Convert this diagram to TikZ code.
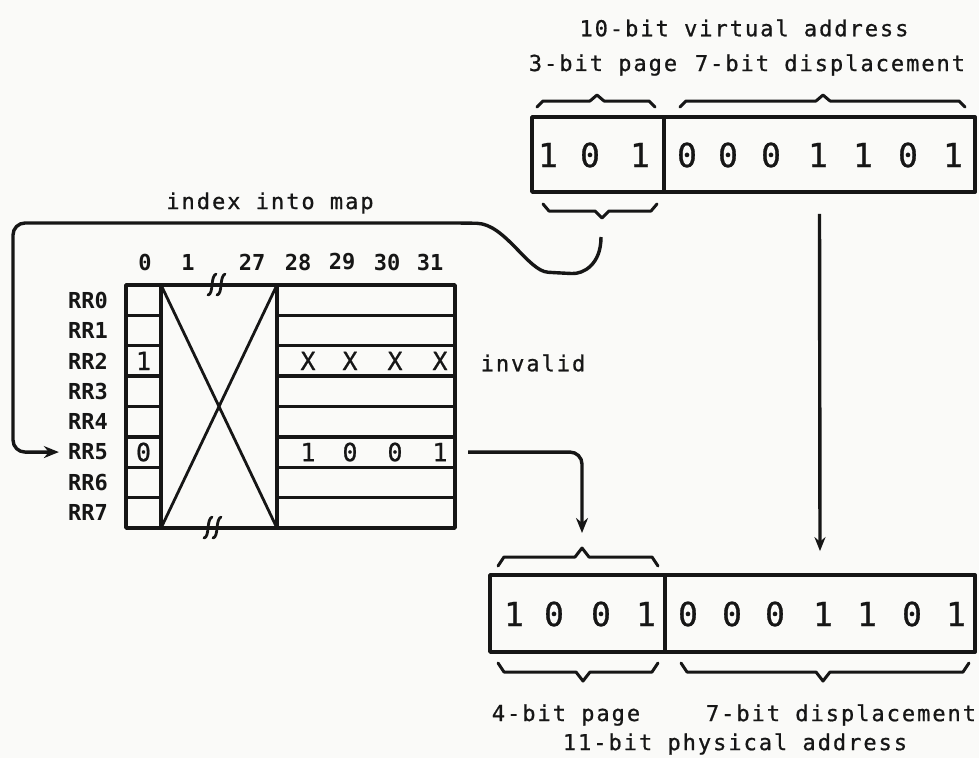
\documentclass[tikz,border=0pt]{standalone}
\usepackage{fontspec}
\usetikzlibrary{arrows.meta}
\newfontfamily\twfont[LetterSpace=9,FakeBold=0.8]{DejaVu Sans Mono}
\newfontfamily\twplain[FakeBold=0.8]{DejaVu Sans Mono}
\newfontfamily\twbold{DejaVu Sans Mono Bold}
\definecolor{paper}{RGB}{250,250,248}
\definecolor{ink}{RGB}{22,22,22}
% brace: x1, x2, xtip, y of flat part, signed depth of ends (tip goes the other way)
\newcommand\mybrace[5]{\draw[bracestyle] (#1,{#4+(#5)}) -- ({#1+6},#4) -- ({#3-7},#4) -- (#3,{#4-(#5)}) -- ({#3+7},#4) -- ({#2-6},#4) -- (#2,{#4+(#5)});}
% break mark on a table border
\newcommand\tabbreak[2]{%
  \draw[ink, line width=2.8pt, line cap=round] ({#1-9},{#2+10}) .. controls ({#1-3},{#2+9}) and ({#1-7},{#2-8}) .. ({#1-1},{#2-11});
  \draw[ink, line width=2.8pt, line cap=round] ({#1},{#2+10}) .. controls ({#1+6},{#2+9}) and ({#1+2},{#2-8}) .. ({#1+8},{#2-11});}
\begin{document}
\begin{tikzpicture}[x=1pt,y=-1pt,line join=round,
  box/.style={draw=ink, line width=3.8pt, inner sep=0pt},
  tline/.style={draw=ink, line width=3.4pt},
  bracestyle/.style={draw=ink, line width=3pt, line cap=round},
  conn/.style={draw=ink, line width=3.4pt, rounded corners=12pt, -{Stealth[length=15pt,width=12pt]}},
  vconn/.style={draw=ink, line width=3.4pt, -{Stealth[length=14pt,width=11pt]}},
  lab/.style={text=ink, inner sep=0pt, font=\twfont\fontsize{22}{25}\selectfont},
  big/.style={text=ink, inner sep=0pt, font=\twplain\fontsize{33}{38}\selectfont},
  cell/.style={text=ink, inner sep=0pt, font=\twplain\fontsize{25}{28}\selectfont},
  hdr/.style={text=ink, inner sep=0pt, font=\twbold\fontsize{22}{26}\selectfont}]
\fill[paper] (0,0) rectangle (979,758);
\useasboundingbox (0,0) rectangle (979,758);

% ---------- virtual address ----------
\node[lab] (vtitle) at (744,28) {10-bit virtual address};
\node[lab] (vpagelab) at (603,65) {3-bit page};
\node[lab] (vdisplab) at (830,65) {7-bit displacement};
\mybrace{537}{655}{597}{101}{6}
\mybrace{680}{965}{823}{101}{6}
\node[box, minimum width=132pt, minimum height=75pt] (vpage) at (598,154.5) {};
\node[box, minimum width=311pt, minimum height=75pt] (vdisp) at (819.5,154.5) {};
\foreach \x/\d [count=\k] in {548/1,590/0,640/1}
  \node[big] (vp\k) at (\x,155) {\d};
\foreach \x/\d [count=\k] in {687/0,728/0,771/0,818/1,863/1,908/0,953/1}
  \node[big] (vd\k) at (\x,155) {\d};
\mybrace{543}{657}{602}{211}{-7}
\coordinate (idxstart) at (601,237);

% ---------- map table ----------
\node[lab] (idxlab) at (270,203) {index into map};
\foreach \x/\t [count=\k] in {145/0,188/1,252/27,298/28,342/29,387/30,430/31}
  \node[hdr] (col\k) at (\x,262) {\t};
\draw[tline] (126,285) rectangle (455,528);
\draw[tline] (161,285) -- (161,528);
\draw[tline] (277,285) -- (277,528);
\foreach \k in {1,...,7}{
  \draw[tline] (126,{285+30.375*\k}) -- (161,{285+30.375*\k});
  \draw[tline] (277,{285+30.375*\k}) -- (455,{285+30.375*\k});
}
\draw[tline, line width=2.8pt] (162,287) -- (276,526);
\draw[tline, line width=2.8pt] (276,287) -- (162,526);
\tabbreak{217}{285}
\tabbreak{213}{528}
\foreach \i in {0,...,7}
  \node[hdr, anchor=east] (rr\i) at (108,{285+30.375*(\i+0.5)}) {RR\i};
\node[cell] (c20) at (143.5,{285+30.375*2.5}) {1};
\node[cell] (c50) at (143.5,{285+30.375*5.5}) {0};
\foreach \x [count=\k] in {308,350,395,440}
  \node[cell] (x\k) at (\x,{285+30.375*2.5}) {X};
\foreach \x/\d [count=\k] in {308/1,350/0,395/0,440/1}
  \node[cell] (p\k) at (\x,{285+30.375*5.5}) {\d};
\node[lab] (invalid) at (533,363) {invalid};
\coordinate (r5e) at (455,{285+30.375*5.5});

% ---------- physical address ----------
\mybrace{498}{658}{582}{557}{9}
\node[box, minimum width=175pt, minimum height=77pt] (ppage) at (577.5,613.5) {};
\node[box, minimum width=310pt, minimum height=77pt] (pdisp) at (820,613.5) {};
\foreach \x/\d [count=\k] in {514/1,554/0,601/0,646/1}
  \node[big] (pp\k) at (\x,614) {\d};
\foreach \x/\d [count=\k] in {688/0,732/0,775/0,823/1,867/1,912/0,956/1}
  \node[big] (pd\k) at (\x,614) {\d};
\mybrace{498}{658}{583}{672}{-9}
\mybrace{681}{969}{823}{672}{-9}
\node[lab] (ppagelab) at (566,715) {4-bit page};
\node[lab] (pdisplab) at (841,715) {7-bit displacement};
\node[lab] (ptitle) at (735,744) {11-bit physical address};

% ---------- connectors ----------
\coordinate (mapstart) at (468,{285+30.375*5.5});
\coordinate (ptip) at (582,533);
\draw[conn] (idxstart) .. controls (601,265) and (583,274) .. (560,273)
  .. controls (528,271) and (505,224) .. (465,223) -- (13,223) -- (rr5.west -| 13,0) -- ([xshift=-9pt]rr5.west);
\draw[conn] (mapstart) -- (ptip |- mapstart) -- (ptip);
\draw[vconn] ([yshift=-20pt]vdisp.south) -- ([yshift=22pt]pdisp.north);
\end{tikzpicture}
\end{document}
